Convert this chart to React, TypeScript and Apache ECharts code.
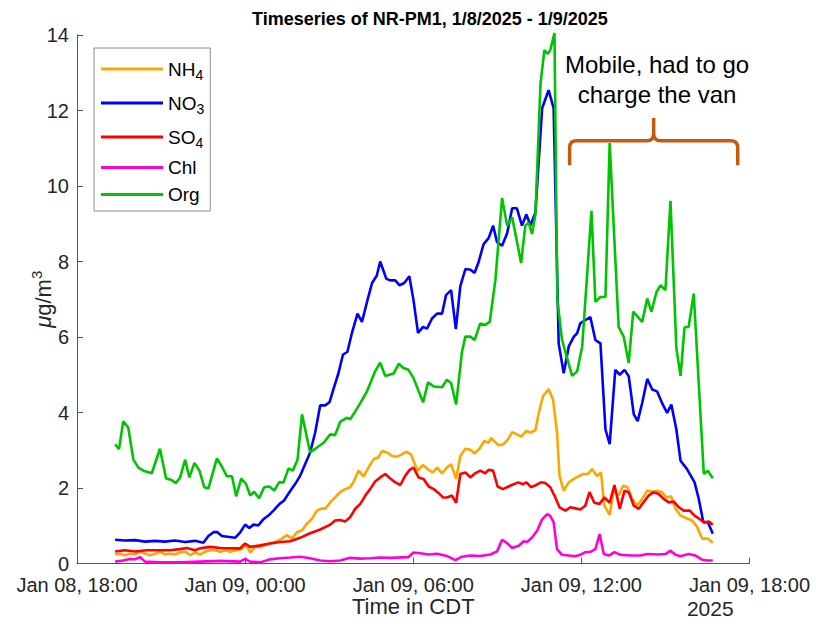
import React, { useEffect, useRef } from 'react';
import * as echarts from 'echarts';

// x values: hours since Jan 08 2025, 18:00 CDT; y values: µg/m3
const xTickLabels = ['Jan 08, 18:00', 'Jan 09, 00:00', 'Jan 09, 06:00', 'Jan 09, 12:00', 'Jan 09, 18:00'];
const seriesNames = ['NH4', 'NO3', 'SO4', 'Chl', 'Org'];
const seriesColors = ['#FFA500', '#0000FF', '#FF0000', '#FF00DD', '#00C400'];

const nh4: number[][] = [[1.36,0.24],[1.54,0.26],[1.71,0.22],[1.89,0.26],[2.07,0.24],[2.25,0.31],[2.43,0.26],[2.61,0.22],[2.79,0.26],[2.96,0.31],[3.14,0.24],[3.32,0.26],[3.50,0.24],[3.68,0.29],[3.86,0.32],[4.04,0.22],[4.21,0.29],[4.39,0.24],[4.57,0.31],[4.75,0.35],[4.93,0.35],[5.11,0.31],[5.29,0.35],[5.46,0.31],[5.70,0.35],[5.88,0.38],[6.03,0.50],[6.18,0.29],[6.36,0.44],[6.54,0.44],[6.71,0.48],[6.89,0.53],[7.07,0.57],[7.25,0.63],[7.49,0.75],[7.67,0.66],[7.85,0.83],[8.03,0.88],[8.20,1.05],[8.38,1.18],[8.56,1.40],[8.74,1.46],[8.86,1.45],[9.04,1.62],[9.21,1.75],[9.39,1.89],[9.57,1.97],[9.75,2.02],[9.89,2.19],[10.05,2.46],[10.23,2.31],[10.40,2.54],[10.58,2.76],[10.76,2.81],[10.88,2.98],[11.06,2.94],[11.24,2.85],[11.42,2.83],[11.60,2.89],[11.75,2.96],[11.92,2.89],[12.01,2.72],[12.15,2.46],[12.35,2.61],[12.51,2.50],[12.70,2.41],[12.85,2.54],[13.03,2.39],[13.20,2.54],[13.35,2.63],[13.53,2.24],[13.68,2.85],[13.86,3.04],[14.04,3.01],[14.19,2.92],[14.36,3.04],[14.54,3.25],[14.69,3.20],[14.78,3.33],[14.87,3.25],[15.05,3.13],[15.22,3.16],[15.38,3.29],[15.53,3.48],[15.70,3.42],[15.85,3.36],[16.04,3.51],[16.18,3.47],[16.36,3.53],[16.48,3.99],[16.63,4.43],[16.83,4.62],[16.99,4.34],[17.13,3.47],[17.22,2.32],[17.37,1.93],[17.55,2.15],[17.73,2.24],[17.90,2.31],[18.06,2.37],[18.23,2.37],[18.38,2.50],[18.56,2.32],[18.70,2.41],[18.82,1.53],[19.01,1.29],[19.15,1.93],[19.33,1.80],[19.49,2.06],[19.65,2.02],[19.81,1.71],[19.99,1.53],[20.17,1.71],[20.35,1.93],[20.53,1.90],[20.70,1.93],[20.88,1.89],[21.04,1.75],[21.20,1.78],[21.36,1.45],[21.54,1.27],[21.75,1.20],[21.95,1.14],[22.13,0.97],[22.31,0.66],[22.51,0.66],[22.69,0.55]];

const no3: number[][] = [[1.36,0.63],[1.71,0.61],[2.07,0.62],[2.43,0.58],[2.79,0.60],[3.14,0.58],[3.50,0.61],[3.86,0.57],[4.21,0.60],[4.51,0.55],[4.69,0.73],[4.87,0.83],[5.01,0.83],[5.17,0.73],[5.64,0.68],[5.82,0.82],[6.00,1.03],[6.15,0.94],[6.30,1.03],[6.47,1.01],[6.65,1.17],[6.83,1.27],[7.01,1.40],[7.23,1.58],[7.39,1.67],[7.58,1.89],[7.79,2.11],[7.96,2.32],[8.14,2.63],[8.32,2.94],[8.50,3.47],[8.68,4.19],[8.86,4.19],[9.01,4.27],[9.15,4.61],[9.33,5.04],[9.49,5.53],[9.65,5.61],[9.81,6.10],[10.01,6.62],[10.17,6.40],[10.35,6.93],[10.53,7.43],[10.70,7.63],[10.82,8.00],[11.04,7.54],[11.18,7.50],[11.36,7.50],[11.51,7.37],[11.68,7.43],[11.86,7.61],[12.01,6.97],[12.17,6.11],[12.35,6.27],[12.49,6.22],[12.67,6.49],[12.85,6.62],[13.03,6.62],[13.17,7.11],[13.35,7.24],[13.52,6.21],[13.68,7.35],[13.86,7.80],[14.04,7.78],[14.19,7.70],[14.33,7.98],[14.51,8.46],[14.69,8.62],[14.85,8.95],[14.99,8.51],[15.17,8.42],[15.35,8.75],[15.53,9.41],[15.70,9.41],[15.88,8.95],[16.04,9.25],[16.18,8.95],[16.36,9.30],[16.60,12.06],[16.83,12.54],[17.01,12.06],[17.19,5.83],[17.37,5.04],[17.55,5.75],[17.73,6.01],[17.85,6.10],[17.96,6.36],[18.14,6.45],[18.32,6.53],[18.50,5.92],[18.68,5.83],[18.86,3.55],[19.01,3.16],[19.21,5.13],[19.37,5.00],[19.54,5.13],[19.69,4.96],[19.87,3.95],[20.01,3.77],[20.17,4.25],[20.35,4.89],[20.53,4.61],[20.70,4.56],[20.88,4.25],[21.06,3.99],[21.21,4.21],[21.39,3.55],[21.54,2.72],[21.77,2.50],[22.04,2.15],[22.19,1.71],[22.35,1.10],[22.51,1.10],[22.69,0.79]];

const so4: number[][] = [[1.36,0.32],[1.71,0.35],[2.07,0.32],[2.49,0.35],[2.96,0.35],[3.32,0.35],[3.68,0.38],[3.92,0.41],[4.21,0.35],[4.39,0.40],[4.75,0.44],[5.11,0.41],[5.53,0.40],[5.82,0.40],[6.00,0.53],[6.18,0.44],[6.54,0.48],[6.89,0.53],[7.25,0.57],[7.61,0.59],[7.96,0.68],[8.32,0.80],[8.68,0.90],[9.04,1.03],[9.21,1.14],[9.39,1.15],[9.57,1.11],[9.75,1.23],[9.93,1.45],[10.11,1.58],[10.29,1.80],[10.46,1.97],[10.64,2.17],[10.82,2.28],[11.00,2.37],[11.18,2.25],[11.36,2.15],[11.54,2.08],[11.71,2.32],[11.87,2.48],[12.01,2.54],[12.19,2.28],[12.37,2.24],[12.55,2.04],[12.73,1.97],[12.90,1.87],[13.06,1.75],[13.20,1.75],[13.38,1.80],[13.53,1.61],[13.68,2.37],[13.86,2.41],[14.04,2.28],[14.21,2.39],[14.39,2.46],[14.57,2.39],[14.69,2.48],[14.85,2.46],[15.01,2.04],[15.20,1.97],[15.40,2.04],[15.58,2.10],[15.75,2.15],[15.92,2.10],[16.04,2.15],[16.20,2.02],[16.39,2.08],[16.56,2.15],[16.71,2.13],[16.89,2.02],[17.04,1.80],[17.22,1.49],[17.43,1.40],[17.61,1.49],[17.79,1.46],[17.96,1.43],[18.14,1.53],[18.29,1.89],[18.46,1.61],[18.65,1.58],[18.82,1.75],[19.01,1.61],[19.18,2.08],[19.37,1.45],[19.54,1.93],[19.69,1.89],[19.87,1.53],[20.05,1.45],[20.22,1.62],[20.40,1.80],[20.58,1.89],[20.76,1.84],[20.94,1.71],[21.12,1.62],[21.30,1.64],[21.48,1.49],[21.65,1.40],[21.87,1.40],[22.04,1.27],[22.22,1.18],[22.39,1.08],[22.55,1.11],[22.69,1.03]];

const chl: number[][] = [[1.36,0.05],[1.65,0.08],[1.89,0.12],[2.07,0.11],[2.25,0.17],[2.43,0.05],[2.96,0.03],[3.68,0.03],[4.39,0.05],[5.11,0.07],[5.82,0.05],[6.00,0.12],[6.18,0.05],[6.54,0.03],[6.89,0.11],[7.25,0.14],[7.61,0.16],[7.96,0.18],[8.32,0.14],[8.68,0.08],[9.04,0.06],[9.39,0.08],[9.75,0.15],[10.11,0.13],[10.46,0.14],[10.82,0.16],[11.18,0.15],[11.83,0.17],[12.01,0.29],[12.25,0.27],[12.55,0.24],[12.85,0.26],[13.20,0.20],[13.50,0.09],[13.74,0.18],[14.04,0.21],[14.39,0.20],[14.75,0.24],[14.99,0.32],[15.17,0.63],[15.35,0.54],[15.53,0.41],[15.77,0.47],[15.94,0.59],[16.06,0.57],[16.24,0.69],[16.42,0.87],[16.60,1.17],[16.78,1.31],[16.89,1.26],[17.01,1.09],[17.13,0.38],[17.31,0.23],[17.55,0.21],[17.79,0.19],[17.96,0.23],[18.14,0.30],[18.32,0.31],[18.50,0.38],[18.65,0.78],[18.80,0.25],[18.98,0.21],[19.18,0.30],[19.39,0.23],[19.75,0.21],[20.11,0.21],[20.35,0.25],[20.70,0.24],[21.00,0.25],[21.18,0.34],[21.36,0.23],[21.54,0.19],[21.83,0.25],[22.07,0.21],[22.31,0.10],[22.51,0.08],[22.69,0.08]];

const org: number[][] = [[1.36,3.16],[1.50,3.03],[1.65,3.77],[1.83,3.60],[2.01,2.76],[2.19,2.54],[2.37,2.46],[2.67,2.39],[2.96,3.04],[3.18,2.25],[3.35,2.22],[3.53,2.13],[3.68,2.28],[3.86,2.75],[4.01,2.28],[4.19,2.66],[4.37,2.46],[4.54,2.02],[4.69,1.99],[4.99,2.78],[5.17,2.57],[5.35,2.31],[5.53,2.31],[5.68,1.78],[5.86,2.25],[6.03,2.11],[6.18,1.80],[6.32,1.90],[6.50,1.73],[6.68,2.02],[6.87,2.04],[7.04,1.93],[7.21,2.15],[7.37,2.15],[7.55,2.52],[7.70,2.46],[7.87,2.75],[8.03,3.95],[8.32,2.94],[8.80,3.20],[9.04,3.42],[9.21,3.40],[9.39,3.75],[9.63,3.86],[9.75,3.82],[9.93,4.03],[10.11,4.25],[10.35,4.56],[10.64,5.09],[10.82,5.32],[11.00,4.97],[11.30,5.03],[11.48,5.29],[11.65,5.18],[11.83,5.13],[12.01,4.91],[12.35,4.27],[12.53,4.80],[12.73,4.69],[13.03,4.67],[13.20,4.87],[13.35,4.78],[13.53,4.21],[13.74,5.61],[13.86,6.01],[14.04,6.01],[14.19,5.92],[14.39,6.36],[14.57,6.32],[14.73,6.40],[14.93,7.50],[15.17,9.68],[15.35,8.95],[15.53,9.17],[15.68,8.60],[15.85,7.96],[16.00,8.95],[16.12,9.03],[16.24,8.73],[16.36,9.25],[16.54,12.70],[16.68,13.60],[16.80,13.50],[16.89,13.60],[17.04,14.05],[17.14,7.00],[17.31,5.92],[17.67,4.97],[17.85,5.09],[18.03,5.75],[18.36,9.34],[18.50,6.93],[18.68,7.06],[18.86,7.06],[19.01,11.14],[19.33,6.27],[19.51,6.01],[19.69,5.31],[19.85,6.67],[20.17,6.40],[20.35,7.02],[20.50,6.67],[20.68,7.19],[20.82,7.37],[21.00,7.24],[21.18,9.61],[21.39,5.70],[21.54,4.97],[21.68,6.25],[21.83,6.27],[22.01,7.15],[22.37,2.37],[22.51,2.46],[22.69,2.26]];

const seriesData = [nh4, no3, so4, chl, org];

const annotationLines = ['Mobile, had to go', 'charge the van'];
const FONT = "'Liberation Sans', Arial, Helvetica, sans-serif";

const Brace = echarts.graphic.extendShape({
  shape: { x1: 0, x2: 0, xm: 0, yBar: 0, yEnd: 0, yPeak: 0, r: 7 },
  buildPath(ctx: any, s: any) {
    ctx.moveTo(s.x1, s.yEnd);
    ctx.lineTo(s.x1, s.yBar + s.r);
    ctx.quadraticCurveTo(s.x1, s.yBar, s.x1 + s.r, s.yBar);
    ctx.lineTo(s.xm - s.r, s.yBar);
    ctx.quadraticCurveTo(s.xm, s.yBar, s.xm, s.yBar - s.r);
    ctx.lineTo(s.xm, s.yPeak);
    ctx.moveTo(s.xm, s.yBar - s.r);
    ctx.quadraticCurveTo(s.xm, s.yBar, s.xm + s.r, s.yBar);
    ctx.lineTo(s.x2 - s.r, s.yBar);
    ctx.quadraticCurveTo(s.x2, s.yBar, s.x2, s.yBar + s.r);
    ctx.lineTo(s.x2, s.yEnd);
  },
});
echarts.graphic.registerShape('brace', Brace as any);

export default function App() {
  const ref = useRef<HTMLDivElement>(null);
  useEffect(() => {
    if (!ref.current) return;
    const chart = echarts.init(ref.current, undefined, { renderer: 'svg' });
    chart.setOption({
      animation: false,
      backgroundColor: '#ffffff',
      title: {
        text: 'Timeseries of NR-PM1, 1/8/2025 - 1/9/2025',
        left: 247,
        top: 6,
        padding: [4, 5, 4, 5],
        textStyle: { fontFamily: FONT, fontWeight: 'bold', fontSize: 18, color: '#000' },
      },
      grid: { left: 77, right: 66.5, top: 35, bottom: 64.5, containLabel: false },
      legend: {
        orient: 'vertical',
        left: 94,
        top: 48,
        padding: [8, 6, 7, 7],
        itemGap: 8,
        itemWidth: 62,
        itemHeight: 3,
        icon: 'rect',
        selectedMode: false,
        borderColor: '#8a8a8a',
        borderWidth: 1,
        backgroundColor: '#ffffff',
        data: seriesNames,
        formatter: (name: string) => {
          const m = name.match(/^([A-Za-z]+)(\d)$/);
          return m ? `{b|${m[1]}}{s|${m[2]}}` : `{b|${name}}`;
        },
        textStyle: {
          fontFamily: FONT,
          fontSize: 19,
          color: '#000',
          rich: {
            b: { fontFamily: FONT, fontSize: 19, lineHeight: 16, color: '#000' },
            s: { fontFamily: FONT, fontSize: 14, lineHeight: 14, padding: [12, 0, 0, 0], color: '#000' },
          },
        },
      },
      xAxis: {
        type: 'value',
        min: 0,
        max: 24,
        interval: 6,
        name: 'Time in CDT',
        nameLocation: 'middle',
        nameGap: 32,
        nameMoveOverlap: false,
        nameTextStyle: { fontFamily: FONT, fontSize: 22, color: '#262626' },
        axisLine: { show: true, lineStyle: { color: '#555', width: 1 } },
        axisTick: { show: true, inside: true, length: 6, lineStyle: { color: '#555' } },
        axisLabel: {
          fontFamily: FONT,
          fontSize: 20,
          lineHeight: 20,
          color: '#262626',
          margin: 11,
          formatter: (v: number) => xTickLabels[Math.round(v / 6)] ?? '',
        },
        splitLine: { show: false },
      },
      yAxis: {
        type: 'value',
        min: 0,
        max: 14,
        interval: 2,
        name: '{i|μ}{n|g/m}{sup|3}',
        nameLocation: 'middle',
        nameRotate: 90,
        nameGap: 20,
        nameMoveOverlap: false,
        nameTextStyle: {
          fontFamily: FONT,
          fontSize: 22,
          color: '#262626',
          rich: {
            i: { fontFamily: FONT, fontSize: 22, fontStyle: 'italic', color: '#262626' },
            n: { fontFamily: FONT, fontSize: 22, color: '#262626' },
            sup: { fontFamily: FONT, fontSize: 15, padding: [0, 0, 13, 0], color: '#262626' },
          },
        },
        axisLine: { show: true, lineStyle: { color: '#555', width: 1 } },
        axisTick: { show: true, inside: true, length: 6, lineStyle: { color: '#555' } },
        axisLabel: { fontFamily: FONT, fontSize: 20, lineHeight: 14, color: '#262626', margin: 8 },
        splitLine: { show: false },
      },
      series: seriesNames.map((name, i) => ({
        name,
        type: 'line',
        data: seriesData[i],
        symbol: 'none',
        showSymbol: false,
        clip: false,
        color: seriesColors[i],
        lineStyle: { color: seriesColors[i], width: 2.6 },
        itemStyle: { color: seriesColors[i] },
        emphasis: { disabled: true },
        silent: true,
        z: 2 + i,
      })),
    });

    const px = (h: number, v: number) =>
      chart.convertToPixel({ xAxisIndex: 0, yAxisIndex: 0 }, [h, v]) as number[];
    const left = px(17.58, 10.55);
    const right = px(23.58, 10.55);
    const bar = px(20.58, 11.2);
    const peak = px(20.58, 11.8);
    const t1 = px(20.7, 13.22);
    const t2 = px(20.7, 12.42);
    const yr = px(22.6, 0);

    chart.setOption({
      graphic: [
        {
          type: 'brace',
          shape: { x1: left[0], x2: right[0], xm: bar[0], yBar: bar[1], yEnd: left[1], yPeak: peak[1], r: 7 },
          style: { stroke: '#C55A11', lineWidth: 3.5, fill: 'none' },
          silent: true,
          z: 100,
        },
        ...annotationLines.map((t, k) => ({
          type: 'text',
          x: (k === 0 ? t1 : t2)[0],
          y: (k === 0 ? t1 : t2)[1],
          silent: true,
          z: 100,
          style: {
            text: t,
            fontFamily: FONT,
            fontSize: 24,
            fill: '#000',
            align: 'center',
            verticalAlign: 'middle',
          },
        })),
        {
          type: 'text',
          x: yr[0],
          y: yr[1] + 45,
          silent: true,
          style: { text: '2025', fontFamily: FONT, fontSize: 21, fill: '#262626', align: 'center', verticalAlign: 'middle' },
        },
      ],
    });

    return () => chart.dispose();
  }, []);

  return (
    <div
      ref={ref}
      style={{ position: 'fixed', left: 0, top: 0, width: 816, height: 628, background: '#fff' }}
    />
  );
}
